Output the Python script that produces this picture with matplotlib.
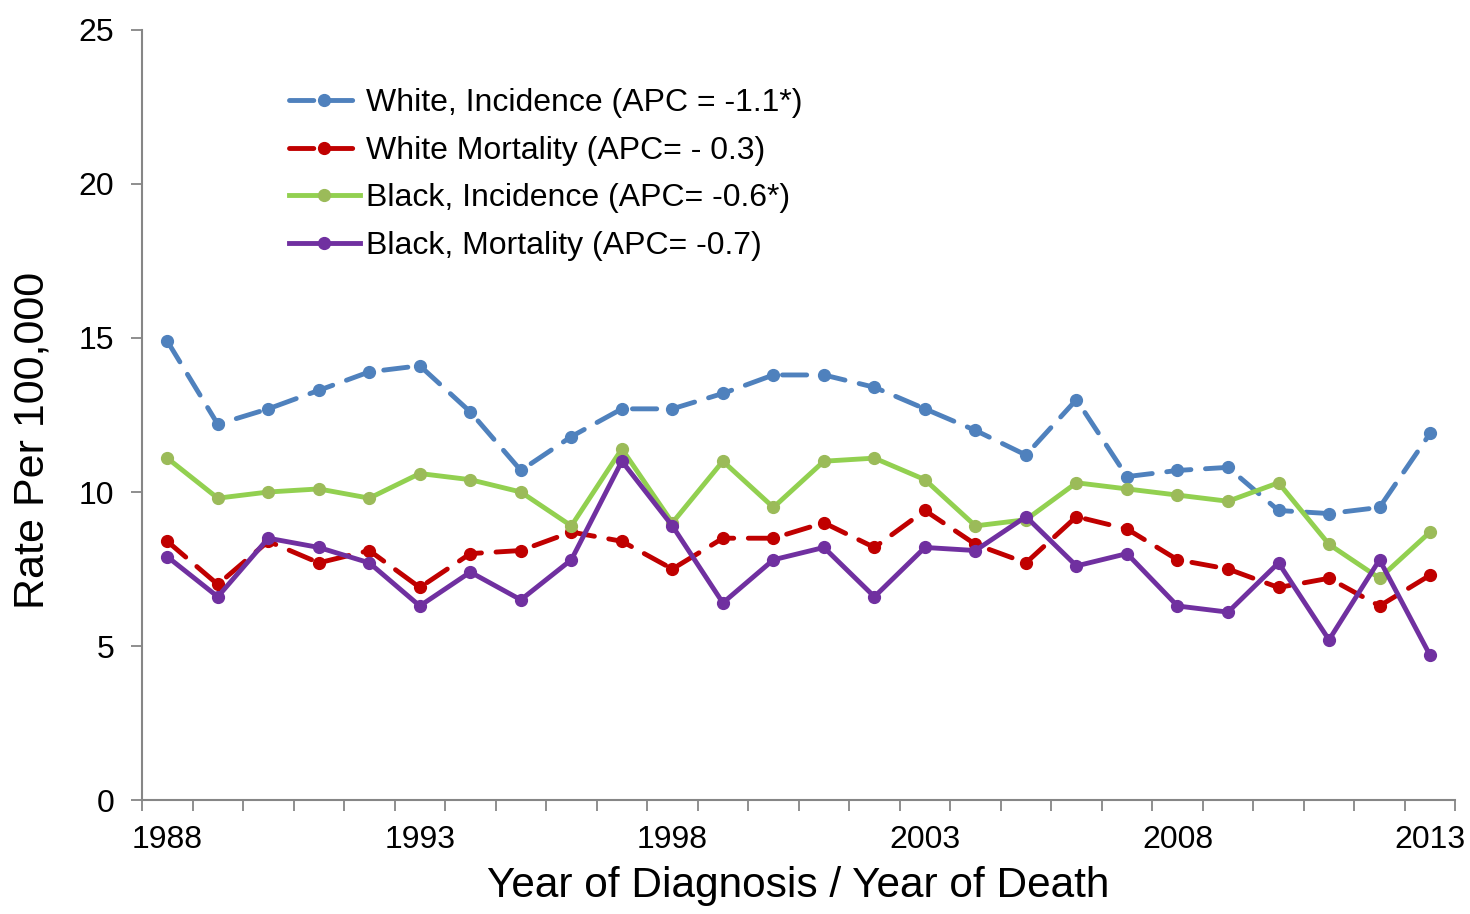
import numpy as np
import matplotlib.pyplot as plt
from matplotlib.ticker import MultipleLocator

plt.rcParams['font.family'] = ['Liberation Sans', 'DejaVu Sans']

years = list(range(1988, 2014))

white_inc = [14.9, 12.2, 12.7, 13.3, 13.9, 14.1, 12.6, 10.7, 11.8, 12.7, 12.7, 13.2, 13.8,
             13.8, 13.4, 12.7, 12.0, 11.2, 13.0, 10.5, 10.7, 10.8, 9.4, 9.3, 9.5, 11.9]
white_mort = [8.4, 7.0, 8.4, 7.7, 8.1, 6.9, 8.0, 8.1, 8.7, 8.4, 7.5, 8.5, 8.5,
              9.0, 8.2, 9.4, 8.3, 7.7, 9.2, 8.8, 7.8, 7.5, 6.9, 7.2, 6.3, 7.3]
black_inc = [11.1, 9.8, 10.0, 10.1, 9.8, 10.6, 10.4, 10.0, 8.9, 11.4, 9.0, 11.0, 9.5,
             11.0, 11.1, 10.4, 8.9, 9.1, 10.3, 10.1, 9.9, 9.7, 10.3, 8.3, 7.2, 8.7]
black_mort = [7.9, 6.6, 8.5, 8.2, 7.7, 6.3, 7.4, 6.5, 7.8, 11.0, 8.9, 6.4, 7.8,
              8.2, 6.6, 8.2, 8.1, 9.2, 7.6, 8.0, 6.3, 6.1, 7.7, 5.2, 7.8, 4.7]

labels = ['White, Incidence (APC = -1.1*)', 'White Mortality (APC= - 0.3)',
          'Black, Incidence (APC= -0.6*)', 'Black, Mortality (APC= -0.7)']

fig = plt.figure(figsize=(14.7, 9.14), dpi=100)
ax = fig.add_axes([0.0966, 0.1247, 0.8934, 0.8425])

lw = 3.5
ms = 8.5
dash = dict(dashes=(5, 3), dash_capstyle='round')
ax.plot(years, white_inc, color='#4F81BD', lw=lw, marker='o', ms=ms, label=labels[0], **dash)
ax.plot(years, white_mort, color='#C00000', lw=lw, marker='o', ms=ms, label=labels[1], **dash)
ax.plot(years, black_inc, color='#92D050', lw=lw, marker='o', ms=ms, mfc='#9BBB59',
        mec='#9BBB59', label=labels[2])
ax.plot(years, black_mort, color='#7030A0', lw=lw, marker='o', ms=ms, label=labels[3])

ax.set_xlim(1987.5, 2013.5)
ax.set_ylim(0, 25)
ax.yaxis.set_major_locator(MultipleLocator(5))
ax.set_xticks(years[::5])
ax.set_xticks(np.arange(1987.5, 2014, 1), minor=True)
ax.tick_params(axis='x', which='major', length=0, labelsize=23, pad=18)
ax.tick_params(axis='x', which='minor', length=8, width=1.3, color='#868686')
ax.tick_params(axis='y', length=8, width=1.3, color='#868686', labelsize=23, pad=12)

for s in ['top', 'right']:
    ax.spines[s].set_visible(False)
for s in ['left', 'bottom']:
    ax.spines[s].set_color('#868686')
    ax.spines[s].set_linewidth(1.5)

ax.set_xlabel('Year of Diagnosis / Year of Death', fontsize=30.5, labelpad=8)
ax.set_ylabel('Rate Per 100,000', fontsize=31)
ax.yaxis.set_label_coords(-0.068, 0.4675)

ax.legend(loc='upper left', bbox_to_anchor=(0.1, 0.945), frameon=False, fontsize=23,
          handlelength=2.2, handletextpad=0.2, labelspacing=0.55, borderpad=0)

fig.savefig('out.png', dpi=100)
